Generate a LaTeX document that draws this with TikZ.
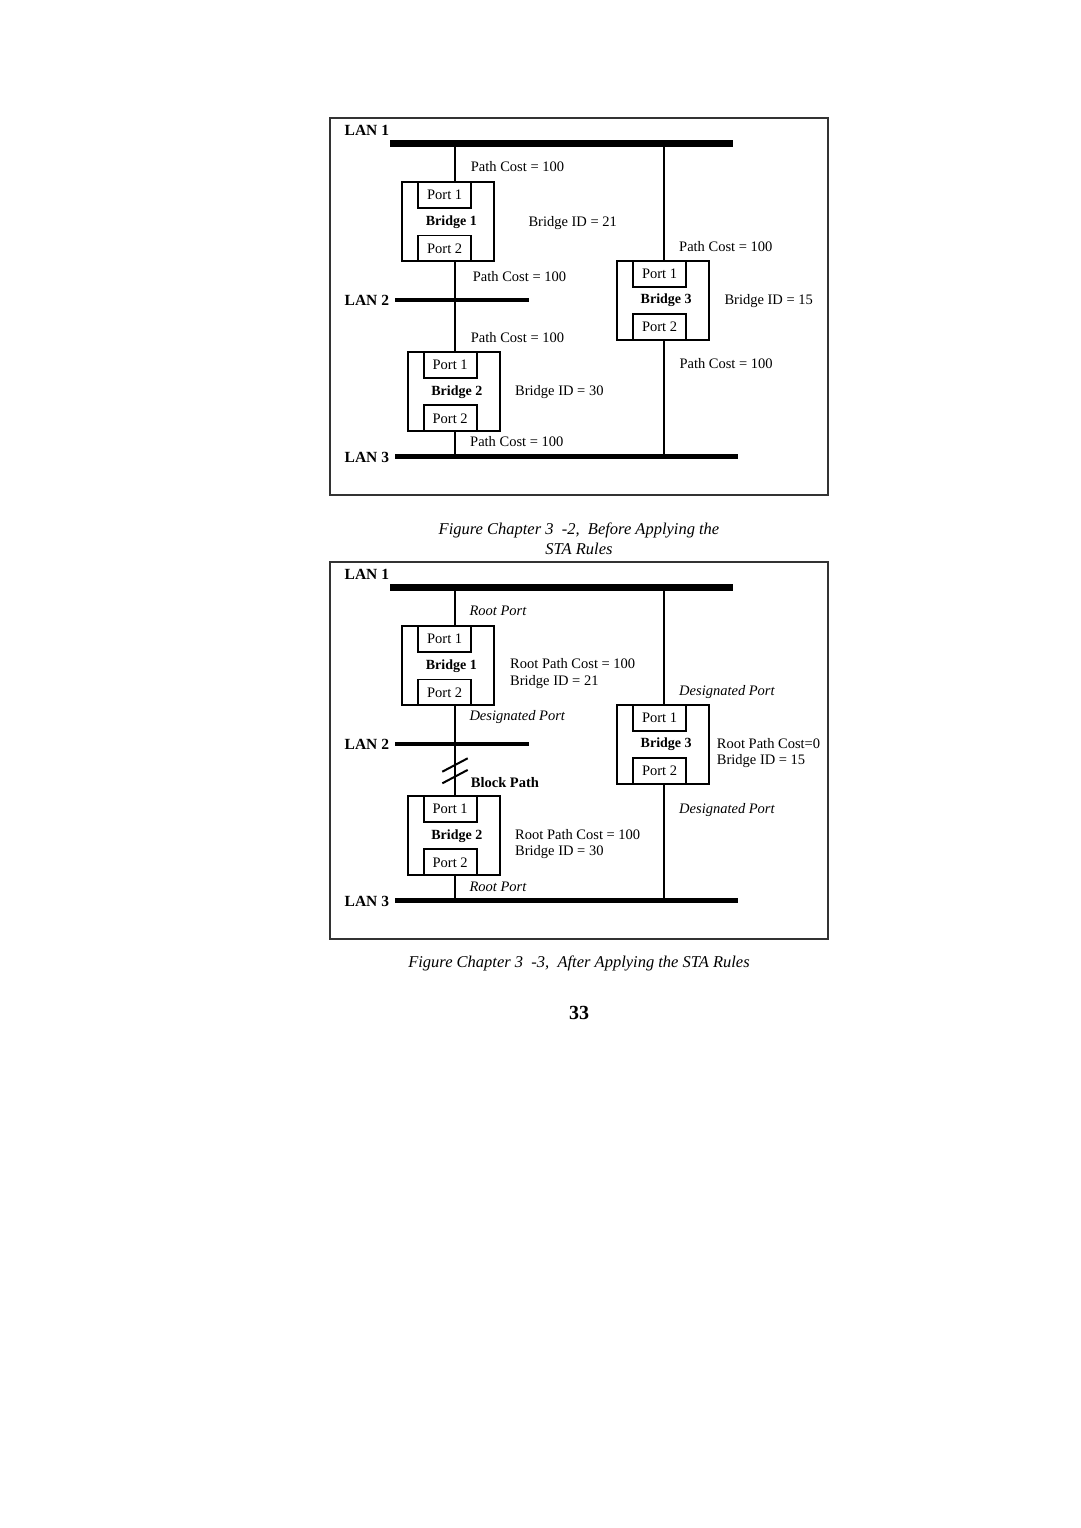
\documentclass[tikz,border=0pt]{standalone}
\usepackage{fontspec}
\setmainfont{Liberation Serif}
\usetikzlibrary{positioning}

\begin{document}
\begin{tikzpicture}[
    x=1pt, y=-1pt,
    frame/.style={draw=black!80, line width=1.5pt},
    bus/.style={fill=black, inner sep=0pt, outer sep=0pt},
    wire/.style={line width=2pt},
    bridge/.style={draw, line width=2pt, minimum width=92pt, minimum height=79pt,
        inner sep=0pt, font=\fontsize{14}{16}\selectfont\bfseries},
    port/.style={draw, line width=1.8pt, minimum width=53pt, minimum height=26pt,
        inner sep=0pt, font=\fontsize{14.5}{16}\selectfont},
    lbl/.style={anchor=base west, inner sep=0pt, font=\fontsize{14.5}{17}\selectfont},
    role/.style={lbl, font=\fontsize{14.5}{17}\selectfont\itshape},
    lanlbl/.style={anchor=base west, inner sep=0pt, font=\fontsize{15.5}{17}\selectfont\bfseries},
    caption/.style={align=center, font=\fontsize{16.5}{19.5}\selectfont\itshape}
]
\useasboundingbox (0,0) rectangle (1080,1528);

% same network twice: before and after
\foreach \dy in {0,444} {
\begin{scope}[shift={(0,\dy)}]
    \draw[frame] (330,118) rectangle (828,495);
    \node[bus, minimum width=343pt, minimum height=7pt] (lan1) at (561.3,143.7) {};
    \node[bus, minimum width=134pt, minimum height=4.5pt] (lan2) at (462,300) {};
    \node[bus, minimum width=343pt, minimum height=4.5pt] (lan3) at (566.3,456.7) {};
    \node[lanlbl] at (344.5,135.5) {LAN 1};
    \node[lanlbl] at (344.5,305.5) {LAN 2};
    \node[lanlbl] at (344.5,462) {LAN 3};

    \node[bridge] (b1) at (448.3,221.8) {\hspace*{6pt}Bridge 1};
    \node[bridge] (b2) at (453.8,391.7) {\hspace*{6pt}Bridge 2};
    \node[bridge] (b3) at (663.2,300.3) {\hspace*{6pt}Bridge 3};
    \foreach \br in {b1,b2,b3} {
        \node[port, anchor=north west] (\br p1) at ([xshift=16pt]\br.north west) {Port 1};
        \node[port, anchor=south west] (\br p2) at ([xshift=16pt]\br.south west) {Port 2};
    }

    \coordinate (c1) at (455,0);
    \coordinate (c3) at (664,0);
    \draw[wire] (lan1 -| c1) -- (b1.north -| c1);
    \draw[wire] (b1.south -| c1) -- (b2.north -| c1);
    \draw[wire] (b2.south -| c1) -- (lan3 -| c1);
    \draw[wire] (lan1 -| c3) -- (b3.north -| c3);
    \draw[wire] (b3.south -| c3) -- (lan3 -| c3);
\end{scope}
}

% before applying the rules
\node[lbl] (pc11) at (470.7,171.7) {Path Cost = 100};
\node[lbl] (id1) at (528.3,226.7) {Bridge ID = 21};
\node[lbl] (pc31) at (679,251) {Path Cost = 100};
\node[lbl] (pc12) at (472.7,281.7) {Path Cost = 100};
\node[lbl] (id3) at (724.3,304.3) {Bridge ID = 15};
\node[lbl] (pc21) at (470.7,342.3) {Path Cost = 100};
\node[lbl] (id2) at (515,395) {Bridge ID = 30};
\node[lbl] (pc32) at (679.3,368.3) {Path Cost = 100};
\node[lbl] (pc22) at (470,446.7) {Path Cost = 100};

% after applying the rules
\begin{scope}[shift={(0,444)}]
    \node[role] (rp1) at (469.3,171.7) {Root Port};
    \node[lbl] (rc1) at (510,224.5) {Root Path Cost = 100};
    \node[lbl] (rid1) at (510,241.5) {Bridge ID = 21};
    \node[role] (dp1) at (469.3,276.7) {Designated Port};
    \node[role] (dp31) at (679,251) {Designated Port};
    \node[lbl] (rc3) at (716.7,304) {Root Path Cost=0};
    \node[lbl] (rid3) at (716.7,320.5) {Bridge ID = 15};
    \node[role] (dp32) at (679,369.3) {Designated Port};
    \node[lbl, font=\fontsize{14.5}{17}\selectfont\bfseries] (blk) at (470.7,343.3) {Block Path};
    \node[lbl] (rc2) at (515,395) {Root Path Cost = 100};
    \node[lbl] (rid2) at (515,411.5) {Bridge ID = 30};
    \node[role] (rp2) at (469.3,447) {Root Port};
    % cut marks on the blocked wire
    \coordinate (cut) at (455,326.8);
    \foreach \d in {0,11.6}
        \draw[wire] ([shift={(-12.7,0.9+\d)}]cut) -- ++(25.4,-13.4);
\end{scope}

\node[caption] (cap1) at (579,539) {Figure Chapter 3\ \ -2,\ \ Before Applying the\\STA Rules};
\node[caption] (cap2) at (579,963) {Figure Chapter 3\ \ -3,\ \ After Applying the STA Rules};
\node[font=\fontsize{20}{24}\selectfont\bfseries] (pg) at (579,1013) {33};

\end{tikzpicture}
\end{document}
